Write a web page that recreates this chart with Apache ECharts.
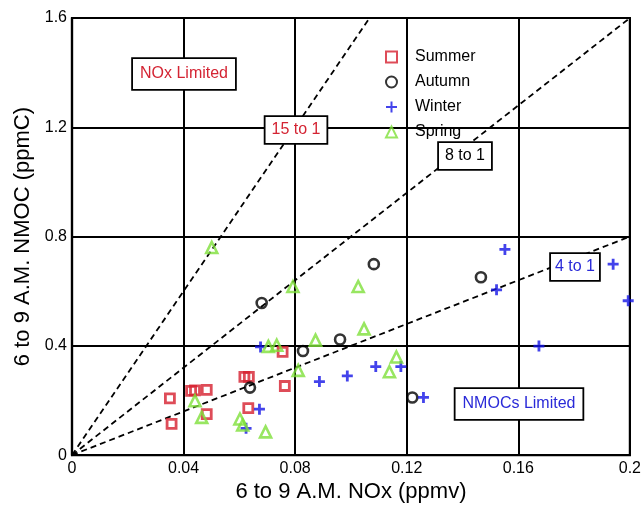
<!DOCTYPE html>
<html>
<head>
<meta charset="utf-8">
<script src="https://cdn.jsdelivr.net/npm/echarts@6/dist/echarts.min.js"></script>
<style>html,body{margin:0;padding:0;background:#fff}#c{width:644px;height:508px}</style>
</head>
<body>
<div id="c"></div>
<script>
// ---- data ----
const seasons = ['Summer', 'Autumn', 'Winter', 'Spring'];
const summer = [[0.0351,0.208],[0.0357,0.114],[0.0427,0.235],[0.0441,0.237],[0.0483,0.239],[0.0483,0.150],[0.0618,0.286],[0.0634,0.286],[0.0632,0.172],[0.0755,0.378],[0.0763,0.253]];
const autumn = [[0.0638,0.247],[0.0680,0.557],[0.0828,0.381],[0.0961,0.423],[0.1082,0.699],[0.1220,0.211],[0.1466,0.651]];
const winter = [[0.0624,0.098],[0.0672,0.168],[0.0676,0.396],[0.0887,0.269],[0.0987,0.290],[0.1089,0.324],[0.1179,0.324],[0.1260,0.211],[0.1522,0.605],[0.1552,0.753],[0.1674,0.399],[0.1940,0.699],[0.1994,0.565]];
const spring = [[0.0441,0.199],[0.0465,0.138],[0.0501,0.760],[0.0602,0.132],[0.0612,0.110],[0.0694,0.085],[0.0704,0.398],[0.0734,0.402],[0.0792,0.617],[0.0811,0.310],[0.0873,0.421],[0.1026,0.617],[0.1047,0.462],[0.1138,0.305],[0.1163,0.359]];
const ratioNames = ['15 to 1', '8 to 1', '4 to 1'];
const ratioLines = [[[0,0],[0.10667,1.6]], [[0,0],[0.2,1.6]], [[0,0],[0.2,0.8]]];
const xTicks = ['0','0.04','0.08','0.12','0.16','0.2'];
const yTicks = ['0','0.4','0.8','1.2','1.6'];
const regionLabels = ['NOx Limited', 'NMOCs Limited'];

const FONT = '"Liberation Sans", Arial, Helvetica, sans-serif';
const chart = echarts.init(document.getElementById('c'), null, {renderer: 'canvas'});

function lineSeries(i) {
  return {
    type: 'line', name: ratioNames[i], data: ratioLines[i], symbol: 'none', silent: true,
    lineStyle: {color: '#000', width: 1.8, type: [6, 4]}, z: 3, clip: true
  };
}
function boxText(x, y, text, color, padding) {
  return {
    type: 'text', x: x, y: y, z: 100,
    style: {
      text: text, fill: color, font: '16px ' + FONT, align: 'center', verticalAlign: 'middle',
      backgroundColor: '#fff', borderColor: '#000', borderWidth: 1.8, padding: padding
    }
  };
}
const plusPath = 'path://M5,0 L5,10 M0,5 L10,5';

chart.setOption({
  animation: false,
  backgroundColor: '#fff',
  grid: {left: 72, right: 14, top: 18, bottom: 50, show: true, borderColor: '#000', borderWidth: 2.2, backgroundColor: 'transparent'},
  xAxis: {
    type: 'value', min: 0, max: 0.2, interval: 0.04,
    name: '6 to 9 A.M. NOx (ppmv)', nameLocation: 'middle', nameGap: 25,
    nameTextStyle: {fontFamily: FONT, fontSize: 22, color: '#000'},
    axisLine: {show: true, lineStyle: {color: '#000', width: 2.2}},
    axisTick: {show: false},
    splitLine: {show: true, lineStyle: {color: '#000', width: 2}},
    axisLabel: {fontFamily: FONT, fontSize: 16, color: '#000', margin: 5, formatter: (v, i) => xTicks[i]}
  },
  yAxis: {
    type: 'value', min: 0, max: 1.6, interval: 0.4,
    name: '6 to 9 A.M. NMOC (ppmC)', nameLocation: 'middle', nameGap: 36,
    nameTextStyle: {fontFamily: FONT, fontSize: 22, color: '#000'},
    axisLine: {show: true, lineStyle: {color: '#000', width: 2.2}},
    axisTick: {show: false},
    splitLine: {show: true, lineStyle: {color: '#000', width: 2}},
    axisLabel: {fontFamily: FONT, fontSize: 16, color: '#000', margin: 5, formatter: (v, i) => yTicks[i]}
  },
  legend: {
    data: seasons, orient: 'vertical', left: 380, top: 44, itemGap: 9,
    itemWidth: 11, itemHeight: 11,
    textStyle: {fontFamily: FONT, fontSize: 16, color: '#000', padding: [0, 0, 0, 13]}
  },
  series: [
    lineSeries(0), lineSeries(1), lineSeries(2),
    {type: 'scatter', name: 'Summer', data: summer, symbol: 'rect', symbolSize: 9, z: 5,
     itemStyle: {color: 'rgba(255,255,255,0)', borderColor: '#d61f2e', borderWidth: 2.8}},
    {type: 'scatter', name: 'Autumn', data: autumn, symbol: 'circle', symbolSize: 10, z: 5,
     itemStyle: {color: 'rgba(255,255,255,0)', borderColor: '#000', borderWidth: 2.6}},
    {type: 'scatter', name: 'Winter', data: winter, symbol: plusPath, symbolSize: 11, z: 5,
     itemStyle: {color: 'rgba(255,255,255,0)', borderColor: '#1414e6', borderWidth: 2.8}},
    {type: 'scatter', name: 'Spring', data: spring, symbol: 'triangle', symbolSize: 11, z: 5,
     itemStyle: {color: 'rgba(255,255,255,0)', borderColor: '#7ee03a', borderWidth: 2.6}}
  ],
  graphic: [
    boxText(184, 74, regionLabels[0], '#d42433', [7, 7, 7, 7]),
    boxText(296, 130, ratioNames[0], '#d42433', [5, 6, 5, 6]),
    boxText(465, 156, ratioNames[1], '#000', [5, 6, 5, 6]),
    boxText(575, 267, ratioNames[2], '#2a2ad8', [5, 4, 5, 4]),
    boxText(519, 404, regionLabels[1], '#2a2ad8', [7, 7, 7, 7])
  ]
});
</script>
</body>
</html>
